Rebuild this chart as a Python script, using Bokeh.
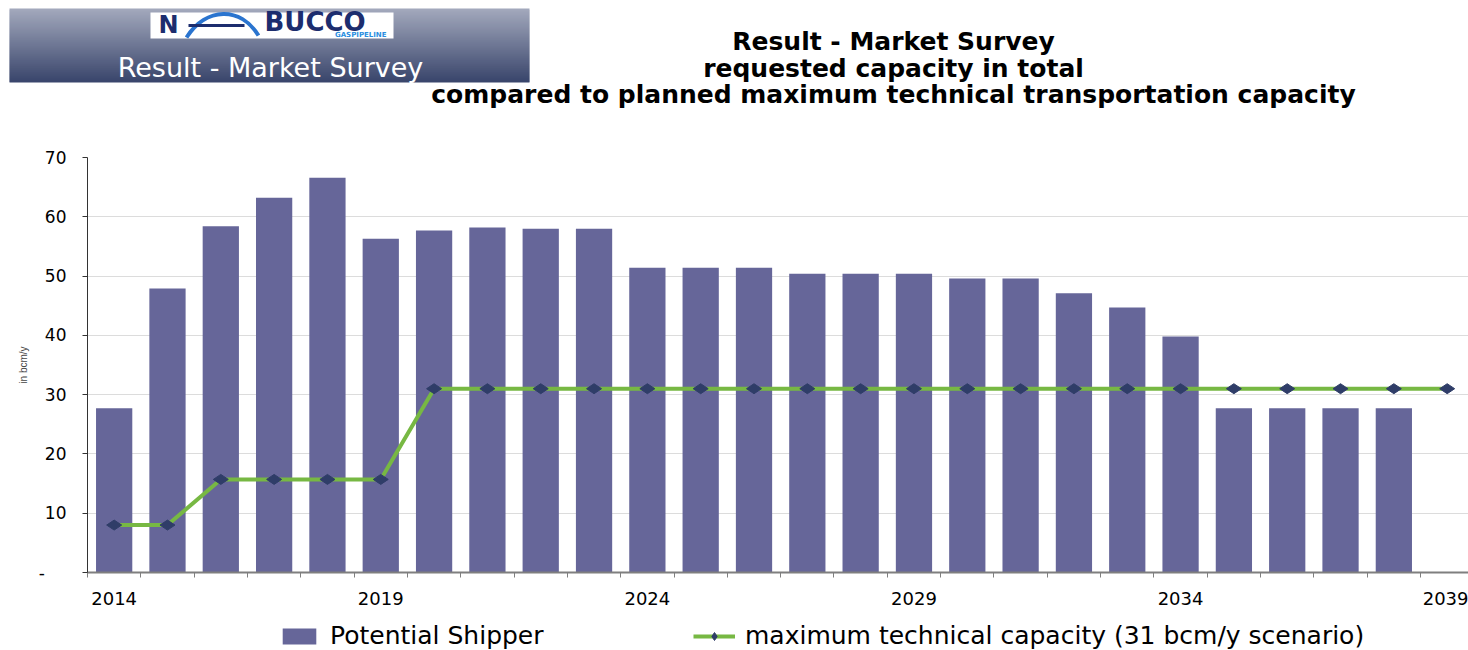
import numpy as np
from bokeh.plotting import figure
from bokeh.models import Range1d, FixedTicker, Legend, LegendItem
from bokeh.core.properties import value
from bokeh.embed import file_html
from bokeh.resources import INLINE

# ---------------- data ----------------
years = [2014, 2015, 2016, 2017, 2018, 2019, 2020, 2021, 2022, 2023, 2024, 2025, 2026,
         2027, 2028, 2029, 2030, 2031, 2032, 2033, 2034, 2035, 2036, 2037, 2038, 2039]
shipper_years = [2014, 2015, 2016, 2017, 2018, 2019, 2020, 2021, 2022, 2023, 2024, 2025,
                 2026, 2027, 2028, 2029, 2030, 2031, 2032, 2033, 2034, 2035, 2036, 2037, 2038]
potential_shipper = [27.7, 47.9, 58.4, 63.2, 66.6, 56.3, 57.7, 58.2, 58.0, 58.0, 51.4, 51.4,
                     51.4, 50.4, 50.4, 50.4, 49.6, 49.6, 47.1, 44.7, 39.8, 27.7, 27.7, 27.7, 27.7]
max_capacity = [8, 8, 15.7, 15.7, 15.7, 15.7, 31, 31, 31, 31, 31, 31, 31,
                31, 31, 31, 31, 31, 31, 31, 31, 31, 31, 31, 31, 31]
label_years = [2014, 2019, 2024, 2029, 2034, 2039]
y_ticks = [0, 10, 20, 30, 40, 50, 60, 70]
series_names = ["Potential Shipper", "maximum technical capacity (31 bcm/y scenario)"]

title_lines = ["Result - Market Survey",
               "requested capacity in total",
               "compared to planned maximum technical transportation capacity"]

FONT = "DejaVu Sans"
BAR_COLOR = "#666699"
LINE_COLOR = "#77b843"
MARK_COLOR = "#2f3d68"
W = 1468

# ---------------- header (pixel coordinates, y downwards) ----------------
HH = 118
hdr = figure(width=W, height=HH, x_range=Range1d(0, W), y_range=Range1d(HH, 0),
             output_backend="svg", toolbar_location=None, min_border=0)
hdr.axis.visible = False
hdr.grid.visible = False
hdr.outline_line_color = None

top = np.array([162, 168, 188])
bot = np.array([58, 70, 108])
n = 37
tops, bots, cols = [], [], []
for i in range(n):
    t = i / (n - 1)
    c = (top * (1 - t) + bot * t).astype(int)
    cols.append("#%02x%02x%02x" % tuple(c))
    tops.append(8 + i * 2)
    bots.append(min(8 + i * 2 + 3, 82))
hdr.quad(left=9, right=529, top=tops, bottom=bots, fill_color=cols, line_color=None)

# logo
hdr.quad(left=150, right=393, top=12, bottom=38, fill_color="white", line_color=None)
hdr.text(x=[158], y=[24], text=["N"], text_font=value("DejaVu Sans"), text_font_style="bold",
         text_font_size="24px", text_color="#1c2d6e", text_baseline="middle")
hdr.bezier(x0=[186], y0=[37], x1=[258], y1=[35], cx0=[206], cy0=[6], cx1=[240], cy1=[6],
           line_color="#2a74cf", line_width=4)
hdr.line(x=[188, 244], y=[25, 25], line_color="#1c2d6e", line_width=3)
hdr.text(x=[264], y=[21], text=["BUCCO"], text_font=value("DejaVu Sans"), text_font_style="bold",
         text_font_size="26px", text_color="#1c2d6e", text_baseline="middle")
hdr.text(x=[386], y=[34], text=["GASPIPELINE"], text_font=value("DejaVu Sans"),
         text_font_style="bold", text_font_size="7px", text_color="#2a8ee0",
         text_baseline="middle", text_align="right")
hdr.text(x=[270], y=[67], text=["Result - Market Survey"], text_font=value(FONT),
         text_font_size="27px", text_color="white", text_baseline="middle", text_align="center")

hdr.text(x=[893, 893, 893], y=[41, 68, 94], text=title_lines, text_font=value(FONT),
         text_font_style="bold", text_font_size="25px", text_color="black",
         text_baseline="middle", text_align="center")

# ---------------- main chart ----------------
p = figure(width=W, height=494, x_range=Range1d(2013.5, 2039.4), y_range=Range1d(0, 70),
           output_backend="svg", toolbar_location=None,
           min_border_left=87, min_border_right=0, min_border_top=39, min_border_bottom=40)
p.outline_line_color = None
p.xgrid.visible = False
p.ygrid.ticker = FixedTicker(ticks=y_ticks)
p.ygrid.grid_line_color = "#dcdcdc"
p.ygrid.grid_line_width = 1

p.vbar(x=shipper_years, top=potential_shipper, width=0.68, bottom=0,
       fill_color=BAR_COLOR, line_color=None)
p.line(x=years, y=max_capacity, line_color=LINE_COLOR, line_width=4)
p.scatter(x=years, y=max_capacity, marker="diamond", size=15, angle=np.pi / 2,
          fill_color=MARK_COLOR, line_color=MARK_COLOR)

ya = p.yaxis[0]
ya.ticker = FixedTicker(ticks=y_ticks)
ya.major_label_overrides = {0: "-\u00a0\u00a0\u00a0\u00a0"}
ya.axis_line_color = "#333333"
ya.major_tick_line_color = "#333333"
ya.major_tick_out = 5
ya.major_tick_in = 0
ya.minor_tick_line_color = None
ya.major_label_standoff = 16
ya.major_label_text_font = FONT
ya.major_label_text_font_size = "17px"
ya.major_label_text_color = "black"
ya.axis_label = "in bcm/y"
ya.axis_label_text_font = "Liberation Sans"
ya.axis_label_text_font_size = "10px"
ya.axis_label_text_font_style = "normal"
ya.axis_label_standoff = 7

xa = p.xaxis[0]
xa.ticker = FixedTicker(ticks=label_years,
                        minor_ticks=[y - 0.5 for y in years] + [2039.5])
xa.axis_line_color = "#7f7f7f"
xa.axis_line_width = 2
xa.major_tick_line_color = None
xa.major_tick_out = 0
xa.major_tick_in = 0
xa.minor_tick_line_color = "#7f7f7f"
xa.minor_tick_out = 5
xa.minor_tick_in = 0
xa.major_label_standoff = 14
xa.major_label_text_font = FONT
xa.major_label_text_font_size = "18px"
xa.major_label_text_color = "black"

# ---------------- legend strip ----------------
# the same series are drawn here outside the visible range, only to feed the legend glyphs
LH = 38
lg = figure(width=W, height=LH, x_range=Range1d(0, W), y_range=Range1d(0, LH),
            output_backend="svg", toolbar_location=None, min_border=0)
lg.axis.visible = False
lg.grid.visible = False
lg.outline_line_color = None
r_bar = lg.vbar(x=shipper_years, top=potential_shipper, width=0.68,
                fill_color=BAR_COLOR, line_color=None)
r_line = lg.line(x=years, y=max_capacity, line_color=LINE_COLOR, line_width=4)
r_pts = lg.scatter(x=years, y=max_capacity, marker="diamond", size=15, angle=np.pi / 2,
                   fill_color=MARK_COLOR, line_color=MARK_COLOR)
legend = Legend(items=[LegendItem(label=series_names[0], renderers=[r_bar]),
                       LegendItem(label=series_names[1], renderers=[r_line, r_pts])],
                orientation="horizontal", location=(278, 0),
                glyph_width=42, glyph_height=20, label_standoff=10, label_width=343,
                spacing=20, padding=0, margin=0, label_height=20,
                label_text_font=FONT, label_text_font_size="25px", label_text_color="black",
                border_line_color=None, background_fill_alpha=0)
lg.add_layout(legend, "center")

open("out.html", "w").write(file_html([hdr, p, lg], INLINE))
